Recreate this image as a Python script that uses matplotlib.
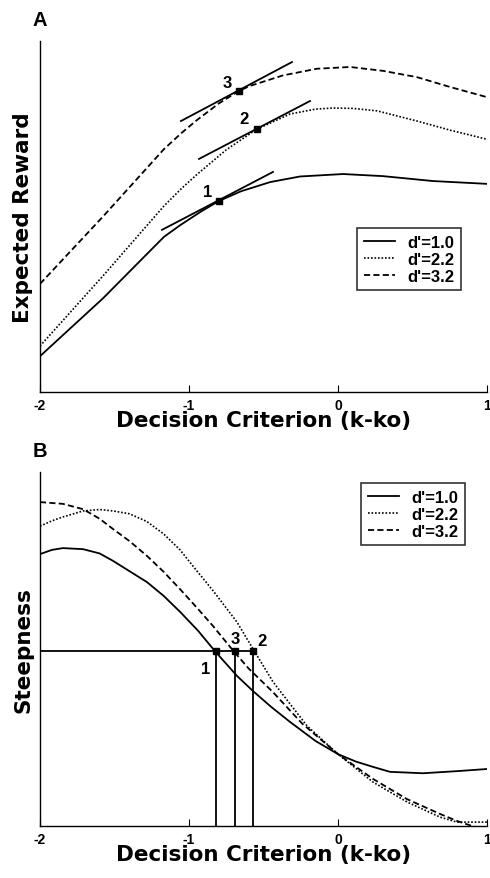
import matplotlib
matplotlib.use("Agg")
import matplotlib.pyplot as plt

plt.rcParams['font.family'] = ['Liberation Sans', 'DejaVu Sans']
plt.rcParams['font.weight'] = 'bold'

# ---- Panel A: expected reward vs decision criterion ----
a_x1 = [-2.0, -1.577, -1.168, -1.06, -0.92, -0.8, -0.65, -0.456, -0.255, 0.034, 0.302, 0.638, 1.0]
a_y1 = [0.102, 0.267, 0.442, 0.475, 0.514, 0.544, 0.572, 0.598, 0.614, 0.621, 0.615, 0.601, 0.593]
a_x2 = [-2.0, -1.577, -1.168, -1.05, -0.946, -0.75, -0.544, -0.322, -0.15, -0.034, 0.1, 0.262, 0.53, 0.752, 1.0]
a_y2 = [0.131, 0.331, 0.530, 0.580, 0.620, 0.690, 0.749, 0.792, 0.806, 0.809, 0.808, 0.801, 0.772, 0.746, 0.720]
a_x3 = [-2.0, -1.577, -1.168, -1.05, -0.946, -0.8, -0.664, -0.591, -0.369, -0.141, 0.081, 0.302, 0.53, 0.752, 1.0]
a_y3 = [0.308, 0.500, 0.692, 0.738, 0.775, 0.822, 0.858, 0.872, 0.902, 0.921, 0.926, 0.915, 0.897, 0.869, 0.840]
a_tangent_x = [(-1.181, -0.436), (-0.933, -0.188), (-1.054, -0.309)]
a_tangent_y = [(0.462, 0.627), (0.664, 0.829), (0.772, 0.940)]
a_mark_x = [-0.799, -0.544, -0.664]
a_mark_y = [0.544, 0.749, 0.858]
a_lab_x = [-0.876, -0.631, -0.745]
a_lab_y = [0.571, 0.778, 0.882]

# ---- Panel B: steepness vs decision criterion ----
b_x1 = [-2.0, -1.92, -1.846, -1.711, -1.6, -1.51, -1.4, -1.282, -1.17, -1.06, -0.94, -0.826, -0.678,
        -0.57, -0.45, -0.322, -0.15, 0.0, 0.12, 0.235, 0.349, 0.57, 0.8, 1.0]
b_y1 = [0.768, 0.780, 0.785, 0.782, 0.770, 0.749, 0.720, 0.689, 0.650, 0.605, 0.552, 0.494, 0.424,
        0.381, 0.337, 0.294, 0.240, 0.203, 0.182, 0.167, 0.153, 0.149, 0.155, 0.161]
b_x2 = [-2.0, -1.92, -1.846, -1.711, -1.6, -1.51, -1.4, -1.282, -1.17, -1.06, -0.95, -0.839, -0.678,
        -0.57, -0.436, -0.208, 0.0, 0.235, 0.463, 0.685, 0.799, 1.0]
b_y2 = [0.847, 0.862, 0.873, 0.890, 0.894, 0.890, 0.882, 0.860, 0.825, 0.780, 0.722, 0.665, 0.576,
        0.500, 0.407, 0.283, 0.203, 0.124, 0.068, 0.025, 0.011, 0.011]
b_x3 = [-2.0, -1.846, -1.711, -1.6, -1.51, -1.4, -1.282, -1.17, -1.06, -0.95, -0.839, -0.705, -0.6,
        -0.436, -0.242, 0.0, 0.235, 0.463, 0.685, 0.8, 0.9, 1.0]
b_y3 = [0.915, 0.910, 0.895, 0.868, 0.839, 0.805, 0.763, 0.718, 0.669, 0.618, 0.565, 0.496, 0.445,
        0.378, 0.290, 0.203, 0.133, 0.076, 0.034, 0.014, 0.000, -0.010]
b_level = 0.494
b_mark_x = [-0.819, -0.568, -0.691]
b_lab_x = [-0.886, -0.51, -0.691]
b_lab_y = [0.445, 0.524, 0.530]

labels = ["d'=1.0", "d'=2.2", "d'=3.2"]
point_names = ["1", "2", "3"]

fig = plt.figure(figsize=(4.9, 8.79), dpi=100)
axA = fig.add_axes([40 / 490, 1 - 393 / 879, 447 / 490, 351 / 879])
axB = fig.add_axes([40 / 490, 1 - 827 / 879, 447 / 490, 354 / 879])

styles = [dict(ls='-', lw=1.3), dict(ls=(0, (1, 1.1)), lw=1.2), dict(ls=(0, (3.4, 1.8)), lw=1.3)]
label_font = dict(fontsize=15.5, fontweight='bold', family=['DejaVu Sans'])

for ax in (axA, axB):
    ax.set_xlim(-2, 1)
    ax.set_ylim(0, 1)
    ax.spines['top'].set_visible(False)
    ax.spines['right'].set_visible(False)
    ax.spines['left'].set_linewidth(1.0)
    ax.spines['bottom'].set_linewidth(1.0)
    ax.set_xticks([-2, -1, 0, 1])
    ax.set_xticklabels(['-2', '-1', '0', '1'])
    ax.set_yticks([])
    ax.tick_params(axis='x', direction='in', length=5, labelsize=10, pad=4)
    for lbl in ax.get_xticklabels():
        lbl.set_fontweight('bold')
    ax.set_xlabel('Decision Criterion (k-ko)', labelpad=-1, **label_font)

# Panel A
for xs, ys, st, lb in zip([a_x1, a_x2, a_x3], [a_y1, a_y2, a_y3], styles, labels):
    axA.plot(xs, ys, color='black', label=lb, **st)
for tx, ty in zip(a_tangent_x, a_tangent_y):
    axA.plot(tx, ty, color='black', lw=1.3)
axA.plot(a_mark_x, a_mark_y, ls='none', marker='s', ms=5, color='black')
for x, y, t in zip(a_lab_x, a_lab_y, point_names):
    axA.text(x, y, t, ha='center', va='center', fontsize=12, fontweight='bold')
axA.set_ylabel('Expected Reward', labelpad=5, **label_font)
legA = axA.legend(loc='upper left', bbox_to_anchor=(357 / 490, 1 - 229 / 879),
                  bbox_transform=fig.transFigure, fontsize=12, frameon=True,
                  fancybox=False, edgecolor='black', handlelength=1.9, borderpad=0.4,
                  labelspacing=0.12, handletextpad=0.7, borderaxespad=0)
legA.get_frame().set_linewidth(1.2)
fig.text(40 / 490, 1 - 20 / 879, 'A', fontsize=14.5, fontweight='bold', ha='center', va='center')

# Panel B
for xs, ys, st, lb in zip([b_x1, b_x2, b_x3], [b_y1, b_y2, b_y3], styles, labels):
    axB.plot(xs, ys, color='black', label=lb, **st)
axB.plot([-2, max(b_mark_x)], [b_level, b_level], color='black', lw=1.3)
for mx in b_mark_x:
    axB.plot([mx, mx], [0, b_level], color='black', lw=1.3)
axB.plot(b_mark_x, [b_level] * 3, ls='none', marker='s', ms=5, color='black')
for x, y, t in zip(b_lab_x, b_lab_y, point_names):
    axB.text(x, y, t, ha='center', va='center', fontsize=12, fontweight='bold')
axB.set_ylabel('Steepness', labelpad=5, **label_font)
legB = axB.legend(loc='upper left', bbox_to_anchor=(361 / 490, 1 - 484 / 879),
                  bbox_transform=fig.transFigure, fontsize=12, frameon=True,
                  fancybox=False, edgecolor='black', handlelength=1.9, borderpad=0.4,
                  labelspacing=0.12, handletextpad=0.7, borderaxespad=0)
legB.get_frame().set_linewidth(1.2)
fig.text(40 / 490, 1 - 452 / 879, 'B', fontsize=14.5, fontweight='bold', ha='center', va='center')

fig.savefig('out.png', dpi=100)
